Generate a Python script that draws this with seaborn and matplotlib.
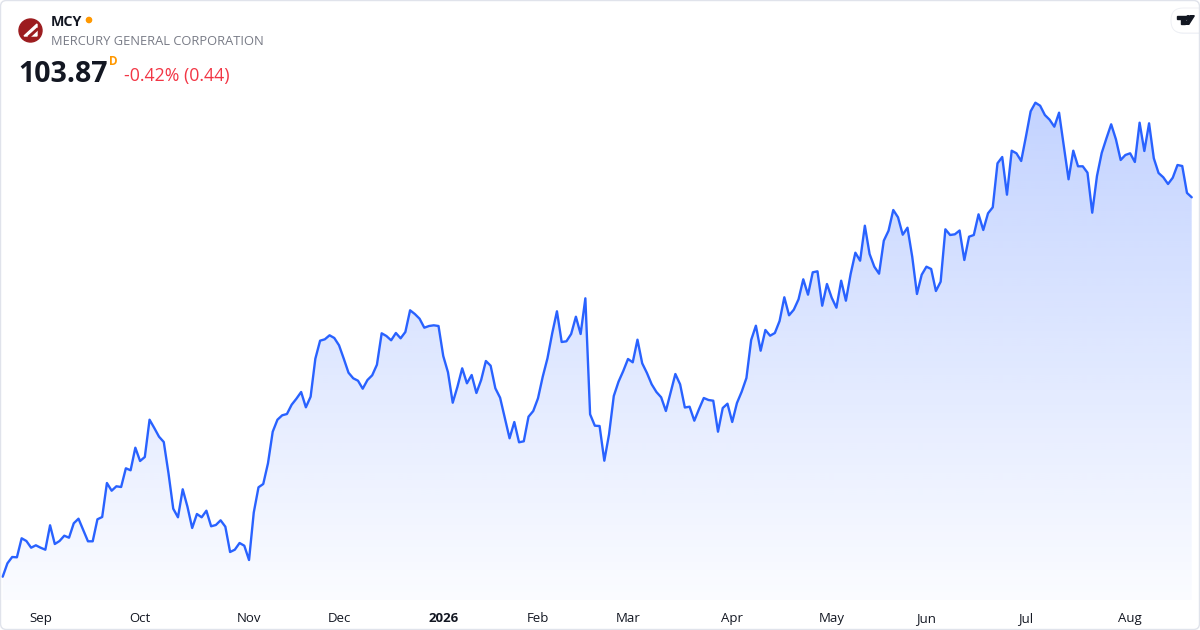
import numpy as np
import pandas as pd
import seaborn as sns
import matplotlib as mpl
import matplotlib.pyplot as plt
from matplotlib.patches import Circle, Polygon, FancyBboxPatch
from matplotlib.transforms import Affine2D

# MCY daily closes, 20 Aug 2025 - 20 Aug 2026
prices = [
    65.93, 67.27, 67.90, 67.87, 69.77, 69.50, 68.83, 69.07, 68.83, 68.63,
    71.07, 69.20, 69.50, 70.03, 69.83, 71.27, 71.73, 70.60, 69.47, 69.47,
    71.67, 71.90, 75.30, 74.53, 74.97, 74.90, 76.77, 76.57, 78.83, 77.50,
    77.90, 81.63, 80.80, 79.93, 79.40, 76.27, 72.73, 71.87, 74.67, 72.93,
    70.80, 72.20, 71.87, 72.53, 70.97, 71.10, 71.57, 70.93, 68.40, 68.63,
    69.30, 69.03, 67.60, 72.35, 74.87, 75.20, 77.27, 80.43, 81.63, 82.07,
    82.20, 83.13, 83.73, 84.40, 82.87, 83.93, 87.73, 89.53, 89.67, 90.07,
    89.80, 89.07, 87.73, 86.33, 85.77, 85.53, 84.73, 85.60, 86.07, 87.13,
    90.27, 90.00, 89.57, 90.30, 89.77, 90.40, 92.57, 92.20, 91.73, 90.83,
    91.00, 91.07, 91.00, 88.00, 86.37, 83.33, 84.93, 86.77, 85.27, 86.10,
    84.30, 85.60, 87.50, 87.03, 84.77, 83.83, 81.80, 79.77, 81.40, 79.37,
    79.47, 81.93, 82.50, 83.77, 85.93, 87.77, 90.27, 92.47, 89.40, 89.47,
    90.20, 91.93, 90.20, 93.77, 82.17, 81.03, 81.00, 77.53, 80.17, 84.00,
    85.43, 86.50, 87.70, 87.37, 89.63, 87.27, 86.30, 85.17, 84.40, 83.87,
    82.50, 84.33, 86.20, 85.17, 82.85, 82.93, 81.53, 82.70, 83.80, 83.60,
    83.53, 80.43, 82.80, 83.23, 81.40, 83.30, 84.43, 85.80, 89.60, 91.03,
    88.53, 90.60, 90.03, 90.30, 91.50, 93.87, 92.07, 92.63, 93.67, 95.67,
    94.13, 96.37, 96.47, 93.03, 95.20, 93.83, 92.83, 95.53, 93.53, 96.20,
    98.33, 97.53, 101.03, 98.20, 96.93, 96.23, 99.53, 100.53, 102.60, 101.87,
    100.13, 100.83, 97.93, 94.20, 96.13, 96.93, 96.70, 94.50, 95.43, 100.67,
    100.10, 100.17, 100.55, 97.60, 99.93, 100.10, 102.17, 100.60, 102.27, 102.87,
    107.27, 107.90, 104.13, 108.53, 108.27, 107.50, 109.93, 112.47, 113.33, 113.03,
    112.10, 111.63, 110.93, 112.33, 109.00, 105.67, 108.53, 106.97, 106.97, 106.33,
    102.33, 106.00, 108.30, 109.77, 111.17, 109.67, 107.60, 108.10, 108.27, 107.40,
    111.33, 108.50, 111.27, 107.77, 106.30, 105.87, 105.20, 105.83, 107.10, 107.00,
    104.31, 103.87,
]

# NYSE closed days in the range
holidays = ['2025-09-01', '2025-11-27', '2025-12-25', '2026-01-01', '2026-01-19',
            '2026-02-16', '2026-04-03', '2026-05-25', '2026-06-19', '2026-07-03']

month_labels = ['Sep', 'Oct', 'Nov', 'Dec', '2026', 'Feb', 'Mar', 'Apr',
                'May', 'Jun', 'Jul', 'Aug']

ticker = 'MCY'
company = 'MERCURY GENERAL CORPORATION'
last_price = '103.87'
change_text = '-0.42% (0.44)'

dates = pd.bdate_range('2025-08-20', '2026-08-20', freq='C', holidays=holidays)
df = pd.DataFrame({'date': dates[:len(prices)], 'close': prices})
df['bar'] = np.arange(len(df))  # bars evenly spaced, no weekend gaps

sns.set_style('white')
plt.rcParams['font.family'] = ['Open Sans', 'DejaVu Sans']

W, H = 1200, 630
fig = plt.figure(figsize=(12, 6.3), dpi=100)
ax = fig.add_axes([0, 30 / H, 1, 600 / H])

line_color = '#2962ff'
sns.lineplot(data=df, x='bar', y='close', color=line_color, lw=1.7, ax=ax, zorder=3)

xlim = (-0.57, 252.75)
ylim = (63.6, 123.6)

# gradient area under the line
n = 300
ys = np.linspace(ylim[0], ylim[1], n)
alpha = np.interp(ys, [ylim[0], df['close'].max()], [0.02, 0.28])
grad = np.zeros((n, 1, 4))
grad[..., :3] = mpl.colors.to_rgb(line_color)
grad[:, 0, 3] = alpha
im = ax.imshow(grad, extent=[xlim[0], xlim[1], ylim[0], ylim[1]], origin='lower',
               aspect='auto', zorder=1, interpolation='bilinear')
poly = ax.fill_between(df['bar'], df['close'], ylim[0], color='none', lw=0)
im.set_clip_path(poly.get_paths()[0], transform=ax.transData)

ax.set_xlim(*xlim)
ax.set_ylim(*ylim)

# month ticks on the first trading day of each month
first_bars = df.groupby(df['date'].dt.to_period('M'))['bar'].min().iloc[1:]
ax.set_xticks(first_bars.values)
ax.set_xticklabels(month_labels)
ax.tick_params(axis='x', length=0, pad=8.5, labelsize=9.5, labelcolor='#131722')
for lab in ax.get_xticklabels():
    if lab.get_text() == '2026':
        lab.set_fontweight('bold')
ax.set_yticks([])
ax.set_xlabel('')
ax.set_ylabel('')
sns.despine(ax=ax, left=True, bottom=True)
ax.set_facecolor('none')


def fx(x):
    return x / W


def fy(y):
    return 1 - y / H


# pixel coords, origin top-left
pix = Affine2D().scale(1, -1).translate(0, H)

# header
fig.patches.append(Circle((30.5, 30.5), 11.5, transform=pix, color='#9c1c1f', zorder=5))
fig.patches.append(Polygon([(24, 36), (37, 24), (37, 36)], closed=True, transform=pix,
                           color='white', zorder=6))
fig.patches.append(Polygon([(28, 36.5), (37.5, 28), (37.5, 30), (30.5, 36.5)], closed=True,
                           transform=pix, color='#9c1c1f', zorder=7))
fig.patches.append(Circle((89, 20), 2.6, transform=pix, color='#ff9800', zorder=5))

fig.text(fx(51), fy(26.5), ticker, fontsize=10.3, fontweight='bold', color='#131722',
         va='baseline', ha='left')
fig.text(fx(51), fy(45), company, fontsize=9.25, color='#787b86', va='baseline', ha='left')
fig.text(fx(18.5), fy(82), last_price, fontsize=20.5, fontweight='bold', color='#131722',
         va='baseline', ha='left')
fig.text(fx(109.5), fy(65), 'D', fontsize=8.5, fontweight='bold', color='#ff9800',
         va='baseline', ha='left')
fig.text(fx(123.5), fy(81), change_text, fontsize=12.8, color='#f23645',
         va='baseline', ha='left')

# TradingView badge top right
fig.patches.append(FancyBboxPatch((1172, 9), 40, 25, boxstyle='round,pad=0,rounding_size=12',
                                  transform=pix, facecolor='#f0f3fa', edgecolor='none',
                                  zorder=4, alpha=0.8))
fig.patches.append(FancyBboxPatch((1171, 8), 40, 25, boxstyle='round,pad=0,rounding_size=12',
                                  transform=pix, facecolor='white', edgecolor='#eceef3',
                                  lw=0.6, zorder=5))
fig.patches.append(Polygon([(1177, 15.7), (1186, 15.7), (1186, 19), (1184.5, 19),
                            (1184.5, 24.3), (1181, 24.3), (1181, 19), (1177, 19)],
                           closed=True, transform=pix, color='#131722', zorder=6))
fig.patches.append(Circle((1188.2, 17.4), 1.7, transform=pix, color='#131722', zorder=6))
fig.patches.append(Polygon([(1190.3, 15.7), (1194.3, 15.7), (1188.8, 24.3), (1184.8, 24.3)],
                           closed=True, transform=pix, color='#131722', zorder=6))

# outer frame
fig.patches.append(FancyBboxPatch((0.5, 0.5), W - 1, H - 1,
                                  boxstyle='round,pad=0,rounding_size=6', transform=pix,
                                  facecolor='none', edgecolor='#e0e3eb', lw=1, zorder=8))

fig.savefig('out.png', dpi=100)
